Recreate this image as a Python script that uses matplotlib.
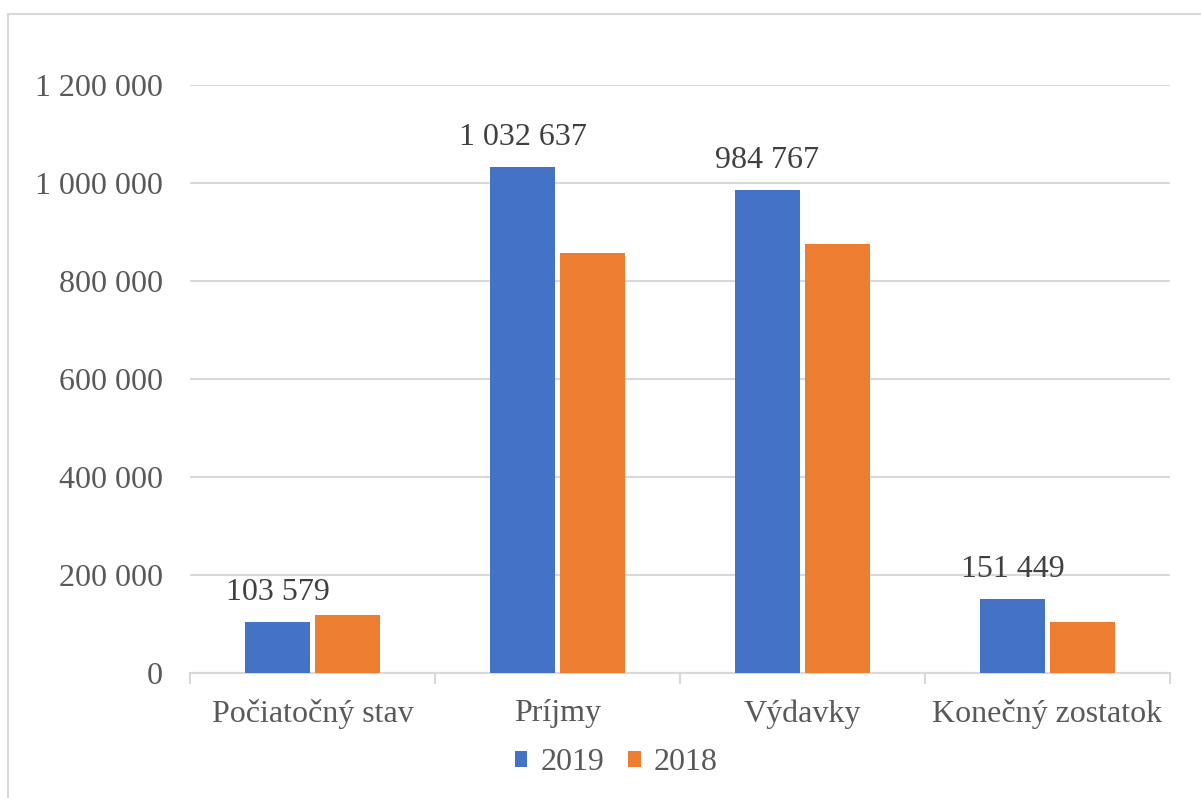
import matplotlib
matplotlib.use("Agg")
from matplotlib import pyplot as plt
from matplotlib.ticker import FuncFormatter, FixedLocator
from matplotlib.patches import Rectangle
import numpy as np

categories = ["Počiatočný stav", "Príjmy", "Výdavky", "Konečný zostatok"]
v2019 = [103579, 1032637, 984767, 151449]
v2018 = [117800, 857000, 875000, 103579]
yticks = [0, 200000, 400000, 600000, 800000, 1000000, 1200000]

BLUE = "#4472C4"
ORANGE = "#ED7D31"
TXT = "#595959"
GRID = "#D9D9D9"

plt.rcParams['font.family'] = ['Liberation Serif', 'DejaVu Serif']

def fmt(v, pos=None):
    return f"{int(v):,}".replace(",", " ")

fig = plt.figure(figsize=(12.01, 7.98), dpi=100)
# outer chart border
fig.patches.append(Rectangle((8/1201, -0.1), 1.2, 1 - 14/798 + 0.1, transform=fig.transFigure,
                             fill=False, edgecolor=GRID, linewidth=1.5))

ax = fig.add_axes([190/1201, 1 - 673/798, 980/1201, (673 - 85)/798])

x = np.arange(len(categories))
w = 0.266
off = 0.143
b1 = ax.bar(x - off, v2019, w, color=BLUE, label="2019", zorder=3)
b2 = ax.bar(x + off, v2018, w, color=ORANGE, label="2018", zorder=3)

for xi, v in zip(x - off, v2019):
    ax.annotate(fmt(v), (xi, v), xytext=(0, 11), textcoords="offset points",
                ha="center", va="bottom", fontsize=23, color="#404040")

ax.set_xlim(-0.5, 3.5)
ax.set_ylim(0, 1200000)
ax.set_yticks(yticks)
ax.yaxis.set_major_formatter(FuncFormatter(fmt))
ax.set_xticks(x)
ax.set_xticklabels(categories)
ax.xaxis.set_minor_locator(FixedLocator([-0.5, 0.5, 1.5, 2.5, 3.5]))
ax.tick_params(axis="x", which="major", length=0, pad=19, labelsize=23, labelcolor=TXT)
ax.tick_params(axis="x", which="minor", length=8, width=1.5, color=GRID)
ax.tick_params(axis="y", length=0, pad=19.5, labelsize=23, labelcolor=TXT)

ax.grid(axis="y", color=GRID, linewidth=1.5, zorder=0)
for s in ["top", "right", "left"]:
    ax.spines[s].set_visible(False)
ax.spines["bottom"].set_color(GRID)
ax.spines["bottom"].set_linewidth(1.5)

fig.legend(handles=[b1, b2], labels=["2019", "2018"], loc="center",
           bbox_to_anchor=(616/1201, 1 - 763/798), ncol=2, frameon=False,
           fontsize=23, labelcolor=TXT, handlelength=0.4, handleheight=0.4,
           handletextpad=0.4, columnspacing=0.75)

fig.savefig("out.png", dpi=100)
